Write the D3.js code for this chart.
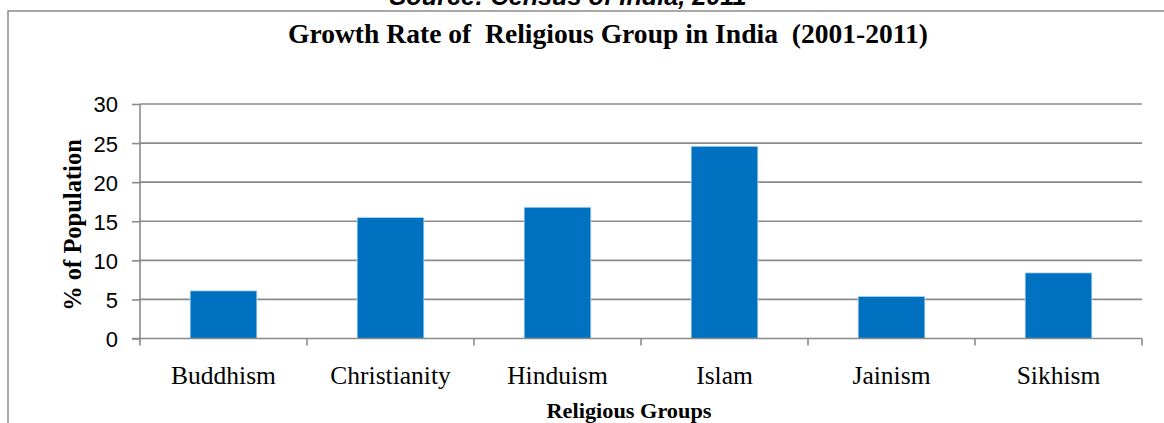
<!DOCTYPE html>
<html><head><meta charset="utf-8">
<script src="https://cdn.jsdelivr.net/npm/d3@7"></script>
<style>body{margin:0;background:#fff}svg{display:block}</style>
</head><body>
<svg id="c" width="1164" height="423"></svg>
<script>
const categories = ["Buddhism","Christianity","Hinduism","Islam","Jainism","Sikhism"];
const values = [6.1, 15.5, 16.8, 24.6, 5.4, 8.4];
const yTicks = [0,5,10,15,20,25,30];
const title = "Growth Rate of\u00a0 Religious Group in India\u00a0 (2001-2011)";
const source = "Source: Census of India, 2011";
const xTitle = "Religious Groups";
const yTitle = "% of Population";

const svg = d3.select("#c");
const m = {l:140, r:1142, t:104, b:338.5};
const x = d3.scaleBand().domain(categories).range([m.l, m.r]).paddingInner(0.6).paddingOuter(0.3);
const xb = d3.scaleBand().domain(categories).range([m.l, m.r]);
const y = d3.scaleLinear().domain([0,30]).range([m.b, m.t]);
const grid = "#8a8a8a";

// frame
svg.append("path").attr("d","M8,423 V11 H1164").attr("fill","none").attr("stroke","#8c8c8c").attr("stroke-width",1.5);

// source (cut off at top, as in the reference)
svg.append("text").attr("x",568).attr("y",5).attr("text-anchor","middle")
  .attr("font-family","Liberation Sans, Arial, sans-serif").attr("font-weight","bold").attr("font-style","italic")
  .attr("font-size",25).attr("textLength",357).attr("lengthAdjust","spacingAndGlyphs").text(source);

svg.append("text").attr("x",608).attr("y",43).attr("text-anchor","middle")
  .attr("font-family","Liberation Serif, Times New Roman, serif").attr("font-weight","bold")
  .attr("font-size",26.5).attr("textLength",640).attr("lengthAdjust","spacingAndGlyphs").text(title);

// gridlines
svg.append("g").selectAll("line").data(yTicks.filter(d=>d>0)).join("line")
  .attr("x1",m.l).attr("x2",m.r).attr("y1",d=>y(d)).attr("y2",d=>y(d))
  .attr("stroke",grid).attr("stroke-width",1.6);

// bars
svg.append("g").selectAll("rect").data(values).join("rect")
  .attr("x",(d,i)=>x(categories[i])).attr("width",x.bandwidth())
  .attr("y",d=>y(d)).attr("height",d=>y(0)-y(d))
  .attr("fill","#0070C0").attr("stroke","#cfe3f3").attr("stroke-width",0.8);

// y axis
const ya = d3.axisLeft(y).tickValues(yTicks).tickSize(8).tickPadding(14);
const gy = svg.append("g").attr("transform",`translate(${m.l},0)`).call(ya);
gy.select(".domain").attr("stroke",grid).attr("stroke-width",1.6).attr("d",`M0,${m.b}V${m.t}`);
gy.selectAll(".tick line").attr("stroke",grid).attr("stroke-width",1.6);
gy.selectAll(".tick text").attr("font-family","Liberation Sans, Arial, sans-serif").attr("font-size",22).attr("fill","#000").attr("dy","0.36em");

// x axis
const xa = d3.axisBottom(xb).tickSize(0).tickPadding(27);
const gx = svg.append("g").attr("transform",`translate(0,${m.b})`).call(xa);
gx.select(".domain").attr("stroke",grid).attr("stroke-width",1.6).attr("d",`M${m.l-8},0H${m.r}`);
gx.selectAll(".tick text").attr("font-family","Liberation Serif, Times New Roman, serif").attr("font-size",25.5).attr("fill","#000").attr("dy","0.71em");
// boundary ticks
const bounds = categories.map(c=>xb(c)).concat([m.r]);
gx.append("g").selectAll("line").data(bounds).join("line")
  .attr("x1",d=>d).attr("x2",d=>d).attr("y1",0).attr("y2",7)
  .attr("stroke",grid).attr("stroke-width",1.6);

svg.append("text").attr("x",629).attr("y",418).attr("text-anchor","middle")
  .attr("font-family","Liberation Serif, Times New Roman, serif").attr("font-weight","bold")
  .attr("font-size",20).attr("textLength",165).attr("lengthAdjust","spacingAndGlyphs").text(xTitle);

svg.append("text").attr("transform","translate(81,225) rotate(-90)").attr("text-anchor","middle")
  .attr("font-family","Liberation Serif, Times New Roman, serif").attr("font-weight","bold")
  .attr("font-size",24.5).text(yTitle);
</script>
</body></html>
